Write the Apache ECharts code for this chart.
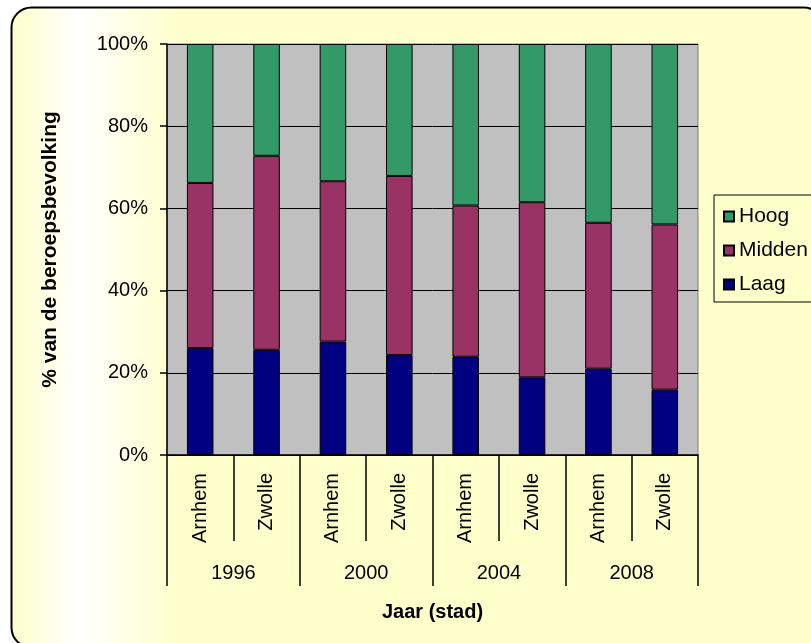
<!DOCTYPE html>
<html>
<head>
<meta charset="utf-8">
<style>
  html, body { margin: 0; padding: 0; background: #ffffff; }
  #chart { width: 811px; height: 643px; }
</style>
<script src="https://cdn.jsdelivr.net/npm/echarts@6/dist/echarts.min.js"></script>
</head>
<body>
<div id="chart"></div>
<script>
// Beroepsbevolking naar opleidingsniveau, Arnhem en Zwolle (aandeel in %)
const cities = ['Arnhem', 'Zwolle', 'Arnhem', 'Zwolle', 'Arnhem', 'Zwolle', 'Arnhem', 'Zwolle'];
const years = ['1996', '2000', '2004', '2008'];
const laag   = [26.0, 25.6, 27.6, 24.3, 23.9, 18.9, 21.0, 15.9];
const midden = [40.2, 47.2, 39.0, 43.6, 36.8, 42.6, 35.5, 40.2];
const hoog   = [33.8, 27.2, 33.4, 32.1, 39.3, 38.5, 43.5, 43.9];
const yTicks = [0, 20, 40, 60, 80, 100];

const FONT = 'Liberation Sans, Arial, sans-serif';
const chart = echarts.init(document.getElementById('chart'), null, { renderer: 'canvas' });

const barStyle = (color) => ({ color: color, borderColor: '#000000', borderWidth: 1 });

chart.setOption({
  backgroundColor: 'transparent',
  animation: false,
  textStyle: { fontFamily: FONT },
  graphic: {
    elements: [{
      type: 'rect',
      z: -100,
      silent: true,
      shape: { x: 11.5, y: 7.5, width: 812, height: 640, r: 20 },
      style: {
        fill: {
          type: 'linear', x: 0, y: 0, x2: 1, y2: 0,
          colorStops: [
            { offset: 0, color: '#FFFFCC' },
            { offset: 0.085, color: '#FFFFFF' },
            { offset: 0.21, color: '#FFFFCC' },
            { offset: 1, color: '#FFFFCC' }
          ]
        },
        stroke: '#000000',
        lineWidth: 2
      }
    }]
  },
  legend: {
    orient: 'vertical',
    left: 714,
    top: 195,
    padding: [11, 30, 7, 9],
    itemWidth: 10,
    itemHeight: 10,
    itemGap: 13,
    icon: 'rect',
    borderColor: '#000000',
    borderWidth: 1,
    data: ['Hoog', 'Midden', 'Laag'],
    textStyle: { fontFamily: FONT, fontSize: 21, color: '#000000' }
  },
  grid: {
    left: 167, top: 44, right: 113, bottom: 188,
    show: true,
    backgroundColor: '#C0C0C0',
    borderColor: '#808080',
    borderWidth: 1
  },
  xAxis: [{
    type: 'category',
    data: cities,
    position: 'bottom',
    axisLine: { lineStyle: { color: '#000000', width: 1.5 } },
    axisTick: { show: true, length: 86, interval: 0, lineStyle: { color: '#000000', width: 1.5 } },
    axisLabel: { rotate: 90, interval: 0, margin: 18, fontSize: 20, color: '#000000', fontFamily: FONT },
    splitLine: { show: false }
  }, {
    type: 'category',
    data: years,
    position: 'bottom',
    axisLine: { show: false },
    axisTick: { show: true, length: 131, interval: 0, lineStyle: { color: '#000000', width: 1.5 } },
    axisLabel: { interval: 0, margin: 108, fontSize: 20, color: '#000000', fontFamily: FONT },
    splitLine: { show: false },
    name: 'Jaar (stad)',
    nameLocation: 'middle',
    nameGap: 147,
    nameTextStyle: { fontSize: 20, fontWeight: 'bold', color: '#000000', fontFamily: FONT }
  }],
  yAxis: {
    type: 'value',
    min: yTicks[0],
    max: yTicks[yTicks.length - 1],
    interval: yTicks[1] - yTicks[0],
    axisLine: { show: true, lineStyle: { color: '#000000', width: 1.5 } },
    axisTick: { show: true, length: 7, lineStyle: { color: '#000000', width: 1.5 } },
    axisLabel: { formatter: '{value}%', margin: 19, fontSize: 20, color: '#000000', fontFamily: FONT },
    splitLine: { show: true, lineStyle: { color: '#000000', width: 1 } },
    name: '% van de beroepsbevolking',
    nameLocation: 'middle',
    nameGap: 106,
    nameTextStyle: { fontSize: 21, fontWeight: 'bold', color: '#000000', fontFamily: FONT }
  },
  series: [
    { name: 'Laag', type: 'bar', stack: 'totaal', xAxisIndex: 0, barWidth: '40%', data: laag, itemStyle: barStyle('#000080') },
    { name: 'Midden', type: 'bar', stack: 'totaal', xAxisIndex: 0, barWidth: '40%', data: midden, itemStyle: barStyle('#993366') },
    { name: 'Hoog', type: 'bar', stack: 'totaal', xAxisIndex: 0, barWidth: '40%', data: hoog, itemStyle: barStyle('#339966') }
  ]
});
</script>
</body>
</html>
